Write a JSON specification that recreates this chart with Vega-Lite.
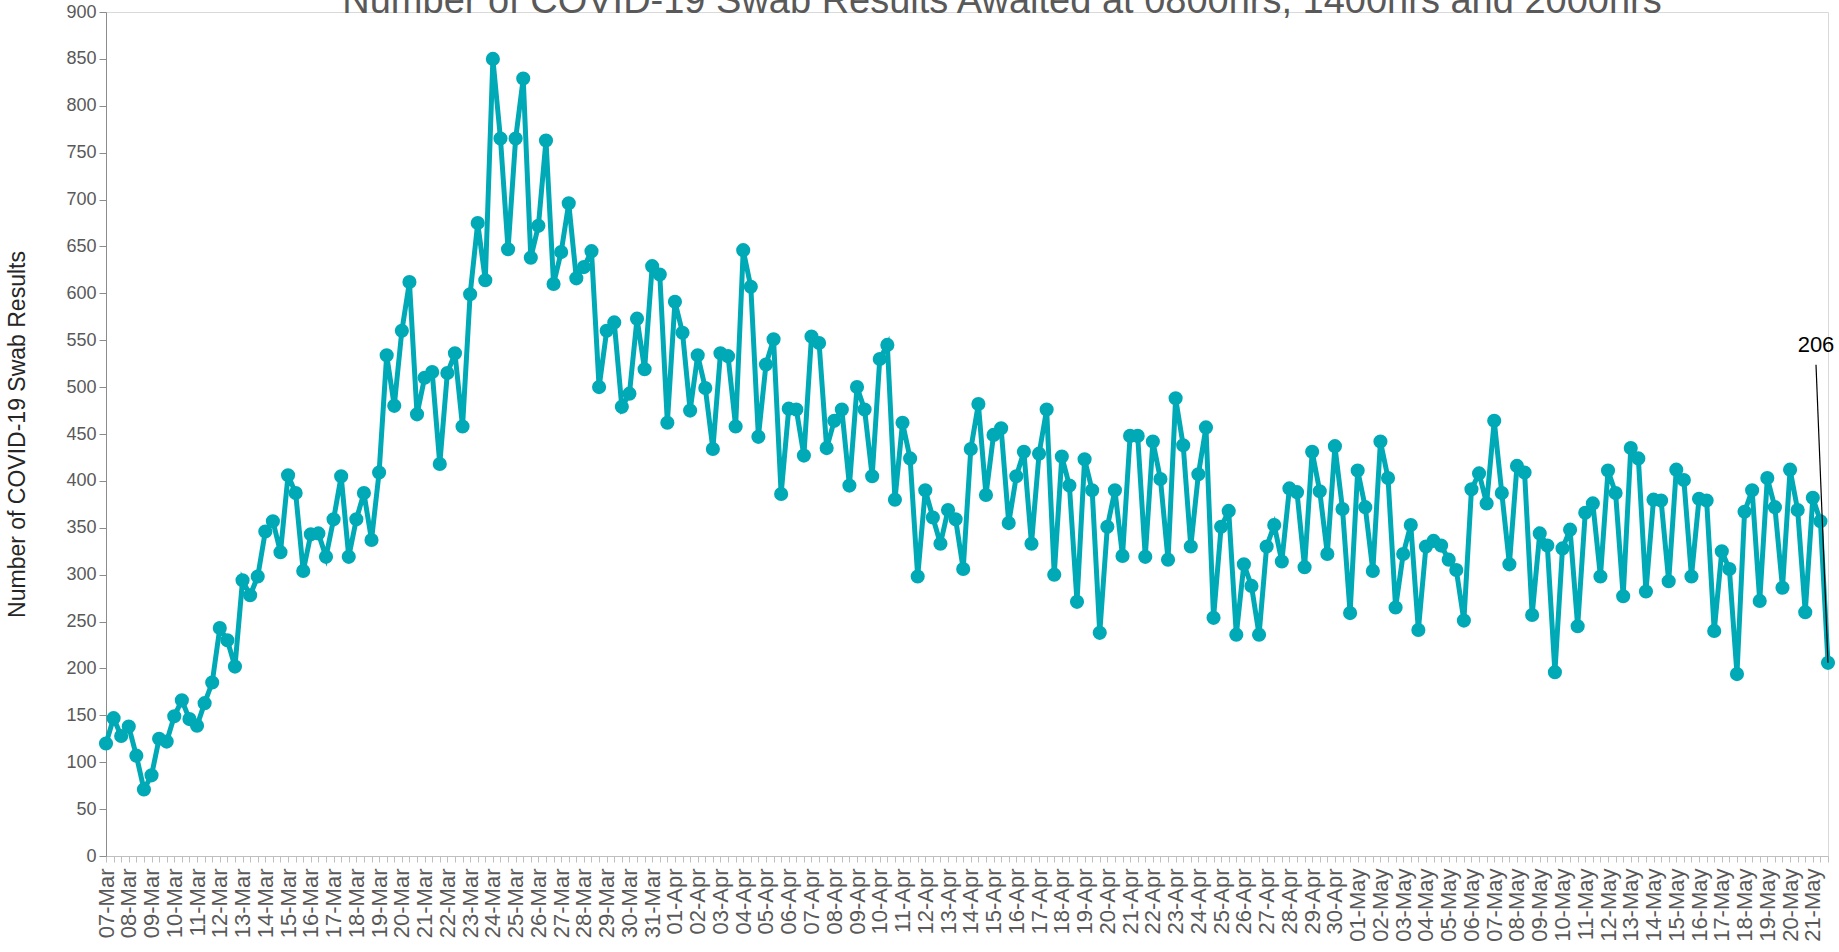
{
  "$schema": "https://vega.github.io/schema/vega-lite/v6.json",
  "width": 1722,
  "height": 844,
  "autosize": {"type": "none"},
  "padding": {"left": 106, "top": 12, "right": 11, "bottom": 96},
  "background": "white",
  "config": {"view": {"stroke": "#D9D9D9", "strokeWidth": 1}, "font": "Liberation Sans"},
  "title": {
    "text": "Number of COVID-19 Swab Results Awaited at 0800hrs, 1400hrs and 2000hrs",
    "fontSize": 38,
    "font": "Liberation Sans",
    "fontWeight": "normal",
    "color": "#595959",
    "baseline": "alphabetic",
    "offset": -8,
    "dx": 35,
    "dy": 40,
    "anchor": "middle",
    "frame": "group"
  },
  "data": {
    "values": [
      {"t": "07-Mar 0800", "v": 120}, {"t": "07-Mar 1400", "v": 147}, {"t": "07-Mar 2000", "v": 128},
      {"t": "08-Mar 0800", "v": 138}, {"t": "08-Mar 1400", "v": 107}, {"t": "08-Mar 2000", "v": 71},
      {"t": "09-Mar 0800", "v": 86}, {"t": "09-Mar 1400", "v": 125}, {"t": "09-Mar 2000", "v": 122},
      {"t": "10-Mar 0800", "v": 149}, {"t": "10-Mar 1400", "v": 166}, {"t": "10-Mar 2000", "v": 146},
      {"t": "11-Mar 0800", "v": 139}, {"t": "11-Mar 1400", "v": 163}, {"t": "11-Mar 2000", "v": 185},
      {"t": "12-Mar 0800", "v": 243}, {"t": "12-Mar 1400", "v": 230}, {"t": "12-Mar 2000", "v": 202},
      {"t": "13-Mar 0800", "v": 294}, {"t": "13-Mar 1400", "v": 278}, {"t": "13-Mar 2000", "v": 298},
      {"t": "14-Mar 0800", "v": 346}, {"t": "14-Mar 1400", "v": 357}, {"t": "14-Mar 2000", "v": 324},
      {"t": "15-Mar 0800", "v": 406}, {"t": "15-Mar 1400", "v": 387}, {"t": "15-Mar 2000", "v": 304},
      {"t": "16-Mar 0800", "v": 343}, {"t": "16-Mar 1400", "v": 344}, {"t": "16-Mar 2000", "v": 319},
      {"t": "17-Mar 0800", "v": 359}, {"t": "17-Mar 1400", "v": 405}, {"t": "17-Mar 2000", "v": 319},
      {"t": "18-Mar 0800", "v": 359}, {"t": "18-Mar 1400", "v": 387}, {"t": "18-Mar 2000", "v": 337},
      {"t": "19-Mar 0800", "v": 409}, {"t": "19-Mar 1400", "v": 534}, {"t": "19-Mar 2000", "v": 480},
      {"t": "20-Mar 0800", "v": 560}, {"t": "20-Mar 1400", "v": 612}, {"t": "20-Mar 2000", "v": 471},
      {"t": "21-Mar 0800", "v": 510}, {"t": "21-Mar 1400", "v": 516}, {"t": "21-Mar 2000", "v": 418},
      {"t": "22-Mar 0800", "v": 515}, {"t": "22-Mar 1400", "v": 536}, {"t": "22-Mar 2000", "v": 458},
      {"t": "23-Mar 0800", "v": 599}, {"t": "23-Mar 1400", "v": 675}, {"t": "23-Mar 2000", "v": 614},
      {"t": "24-Mar 0800", "v": 850}, {"t": "24-Mar 1400", "v": 765}, {"t": "24-Mar 2000", "v": 647},
      {"t": "25-Mar 0800", "v": 765}, {"t": "25-Mar 1400", "v": 829}, {"t": "25-Mar 2000", "v": 638},
      {"t": "26-Mar 0800", "v": 672}, {"t": "26-Mar 1400", "v": 763}, {"t": "26-Mar 2000", "v": 610},
      {"t": "27-Mar 0800", "v": 644}, {"t": "27-Mar 1400", "v": 696}, {"t": "27-Mar 2000", "v": 616},
      {"t": "28-Mar 0800", "v": 628}, {"t": "28-Mar 1400", "v": 645}, {"t": "28-Mar 2000", "v": 500},
      {"t": "29-Mar 0800", "v": 560}, {"t": "29-Mar 1400", "v": 569}, {"t": "29-Mar 2000", "v": 479},
      {"t": "30-Mar 0800", "v": 493}, {"t": "30-Mar 1400", "v": 573}, {"t": "30-Mar 2000", "v": 519},
      {"t": "31-Mar 0800", "v": 629}, {"t": "31-Mar 1400", "v": 620}, {"t": "31-Mar 2000", "v": 462},
      {"t": "01-Apr 0800", "v": 591}, {"t": "01-Apr 1400", "v": 558}, {"t": "01-Apr 2000", "v": 475},
      {"t": "02-Apr 0800", "v": 534}, {"t": "02-Apr 1400", "v": 499}, {"t": "02-Apr 2000", "v": 434},
      {"t": "03-Apr 0800", "v": 536}, {"t": "03-Apr 1400", "v": 533}, {"t": "03-Apr 2000", "v": 458},
      {"t": "04-Apr 0800", "v": 646}, {"t": "04-Apr 1400", "v": 607}, {"t": "04-Apr 2000", "v": 447},
      {"t": "05-Apr 0800", "v": 524}, {"t": "05-Apr 1400", "v": 551}, {"t": "05-Apr 2000", "v": 386},
      {"t": "06-Apr 0800", "v": 477}, {"t": "06-Apr 1400", "v": 476}, {"t": "06-Apr 2000", "v": 427},
      {"t": "07-Apr 0800", "v": 554}, {"t": "07-Apr 1400", "v": 547}, {"t": "07-Apr 2000", "v": 435},
      {"t": "08-Apr 0800", "v": 464}, {"t": "08-Apr 1400", "v": 476}, {"t": "08-Apr 2000", "v": 395},
      {"t": "09-Apr 0800", "v": 500}, {"t": "09-Apr 1400", "v": 476}, {"t": "09-Apr 2000", "v": 405},
      {"t": "10-Apr 0800", "v": 530}, {"t": "10-Apr 1400", "v": 545}, {"t": "10-Apr 2000", "v": 380},
      {"t": "11-Apr 0800", "v": 462}, {"t": "11-Apr 1400", "v": 424}, {"t": "11-Apr 2000", "v": 298},
      {"t": "12-Apr 0800", "v": 390}, {"t": "12-Apr 1400", "v": 361}, {"t": "12-Apr 2000", "v": 333},
      {"t": "13-Apr 0800", "v": 369}, {"t": "13-Apr 1400", "v": 359}, {"t": "13-Apr 2000", "v": 306},
      {"t": "14-Apr 0800", "v": 434}, {"t": "14-Apr 1400", "v": 482}, {"t": "14-Apr 2000", "v": 385},
      {"t": "15-Apr 0800", "v": 449}, {"t": "15-Apr 1400", "v": 456}, {"t": "15-Apr 2000", "v": 355},
      {"t": "16-Apr 0800", "v": 405}, {"t": "16-Apr 1400", "v": 431}, {"t": "16-Apr 2000", "v": 333},
      {"t": "17-Apr 0800", "v": 429}, {"t": "17-Apr 1400", "v": 476}, {"t": "17-Apr 2000", "v": 300},
      {"t": "18-Apr 0800", "v": 426}, {"t": "18-Apr 1400", "v": 395}, {"t": "18-Apr 2000", "v": 271},
      {"t": "19-Apr 0800", "v": 423}, {"t": "19-Apr 1400", "v": 390}, {"t": "19-Apr 2000", "v": 238},
      {"t": "20-Apr 0800", "v": 351}, {"t": "20-Apr 1400", "v": 390}, {"t": "20-Apr 2000", "v": 320},
      {"t": "21-Apr 0800", "v": 448}, {"t": "21-Apr 1400", "v": 448}, {"t": "21-Apr 2000", "v": 319},
      {"t": "22-Apr 0800", "v": 442}, {"t": "22-Apr 1400", "v": 402}, {"t": "22-Apr 2000", "v": 316},
      {"t": "23-Apr 0800", "v": 488}, {"t": "23-Apr 1400", "v": 438}, {"t": "23-Apr 2000", "v": 330},
      {"t": "24-Apr 0800", "v": 407}, {"t": "24-Apr 1400", "v": 457}, {"t": "24-Apr 2000", "v": 254},
      {"t": "25-Apr 0800", "v": 351}, {"t": "25-Apr 1400", "v": 368}, {"t": "25-Apr 2000", "v": 236},
      {"t": "26-Apr 0800", "v": 311}, {"t": "26-Apr 1400", "v": 288}, {"t": "26-Apr 2000", "v": 236},
      {"t": "27-Apr 0800", "v": 330}, {"t": "27-Apr 1400", "v": 353}, {"t": "27-Apr 2000", "v": 314},
      {"t": "28-Apr 0800", "v": 392}, {"t": "28-Apr 1400", "v": 388}, {"t": "28-Apr 2000", "v": 308},
      {"t": "29-Apr 0800", "v": 431}, {"t": "29-Apr 1400", "v": 389}, {"t": "29-Apr 2000", "v": 322},
      {"t": "30-Apr 0800", "v": 437}, {"t": "30-Apr 1400", "v": 370}, {"t": "30-Apr 2000", "v": 259},
      {"t": "01-May 0800", "v": 411}, {"t": "01-May 1400", "v": 372}, {"t": "01-May 2000", "v": 304},
      {"t": "02-May 0800", "v": 442}, {"t": "02-May 1400", "v": 403}, {"t": "02-May 2000", "v": 265},
      {"t": "03-May 0800", "v": 322}, {"t": "03-May 1400", "v": 353}, {"t": "03-May 2000", "v": 241},
      {"t": "04-May 0800", "v": 330}, {"t": "04-May 1400", "v": 336}, {"t": "04-May 2000", "v": 331},
      {"t": "05-May 0800", "v": 316}, {"t": "05-May 1400", "v": 305}, {"t": "05-May 2000", "v": 251},
      {"t": "06-May 0800", "v": 391}, {"t": "06-May 1400", "v": 408}, {"t": "06-May 2000", "v": 376},
      {"t": "07-May 0800", "v": 464}, {"t": "07-May 1400", "v": 387}, {"t": "07-May 2000", "v": 311},
      {"t": "08-May 0800", "v": 416}, {"t": "08-May 1400", "v": 409}, {"t": "08-May 2000", "v": 257},
      {"t": "09-May 0800", "v": 344}, {"t": "09-May 1400", "v": 331}, {"t": "09-May 2000", "v": 196},
      {"t": "10-May 0800", "v": 328}, {"t": "10-May 1400", "v": 348}, {"t": "10-May 2000", "v": 245},
      {"t": "11-May 0800", "v": 366}, {"t": "11-May 1400", "v": 376}, {"t": "11-May 2000", "v": 298},
      {"t": "12-May 0800", "v": 411}, {"t": "12-May 1400", "v": 387}, {"t": "12-May 2000", "v": 277},
      {"t": "13-May 0800", "v": 435}, {"t": "13-May 1400", "v": 424}, {"t": "13-May 2000", "v": 282},
      {"t": "14-May 0800", "v": 380}, {"t": "14-May 1400", "v": 379}, {"t": "14-May 2000", "v": 293},
      {"t": "15-May 0800", "v": 412}, {"t": "15-May 1400", "v": 401}, {"t": "15-May 2000", "v": 298},
      {"t": "16-May 0800", "v": 381}, {"t": "16-May 1400", "v": 379}, {"t": "16-May 2000", "v": 240},
      {"t": "17-May 0800", "v": 325}, {"t": "17-May 1400", "v": 306}, {"t": "17-May 2000", "v": 194},
      {"t": "18-May 0800", "v": 367}, {"t": "18-May 1400", "v": 390}, {"t": "18-May 2000", "v": 272},
      {"t": "19-May 0800", "v": 403}, {"t": "19-May 1400", "v": 372}, {"t": "19-May 2000", "v": 286},
      {"t": "20-May 0800", "v": 412}, {"t": "20-May 1400", "v": 369}, {"t": "20-May 2000", "v": 260},
      {"t": "21-May 0800", "v": 382}, {"t": "21-May 1400", "v": 357}, {"t": "21-May 2000", "v": 206}
    ]
  },
  "layer": [
    {
      "mark": {
        "type": "line",
        "color": "#00A9B6",
        "strokeWidth": 5,
        "point": {"filled": true, "size": 200, "color": "#00A9B6", "opacity": 1}
      },
      "encoding": {
        "x": {
          "field": "t",
          "type": "ordinal",
          "sort": null,
          "scale": {"type": "point", "padding": 0},
          "axis": {
            "title": null,
            "labelAngle": -90,
            "labelExpr": "indexof(datum.value, ' 0800') > 0 ? slice(datum.value, 0, 6) : ''",
            "labelOverlap": false,
            "labelFontSize": 22,
            "labelFont": "Liberation Sans",
            "labelColor": "#595959",
            "tickSize": 6,
            "tickColor": "#BFBFBF",
            "domainColor": "#BFBFBF",
            "labelPadding": 6,
            "labelBound": false
          }
        },
        "y": {
          "field": "v",
          "type": "quantitative",
          "scale": {"domain": [0, 900], "nice": false},
          "axis": {
            "title": "Number of COVID-19 Swab Results",
            "titleFontSize": 23,
            "titleFont": "Liberation Sans",
            "titleFontWeight": "normal",
            "titleColor": "#262626",
            "titlePadding": 36,
            "values": [0, 50, 100, 150, 200, 250, 300, 350, 400, 450, 500, 550, 600, 650, 700, 750, 800, 850, 900],
            "labelFontSize": 18,
            "labelFont": "Liberation Sans",
            "labelColor": "#595959",
            "labelPadding": 3,
            "tickSize": 7,
            "tickColor": "#8C8C8C",
            "domainColor": "#8C8C8C",
            "grid": false
          }
        }
      }
    },
    {
      "transform": [{"filter": "datum.t == '21-May 2000'"}],
      "mark": {"type": "rule", "color": "#000000", "strokeWidth": 1.2, "x2Offset": -12, "y2Offset": -298},
      "encoding": {
        "x": {"field": "t", "type": "ordinal", "sort": null},
        "x2": {"field": "t"},
        "y": {"field": "v", "type": "quantitative"},
        "y2": {"field": "v"}
      }
    },
    {
      "transform": [{"filter": "datum.t == '21-May 2000'"}],
      "mark": {"type": "text", "fontSize": 22, "font": "Liberation Sans", "color": "#000000", "dx": -12, "dy": -318, "baseline": "middle", "align": "center"},
      "encoding": {
        "x": {"field": "t", "type": "ordinal", "sort": null},
        "y": {"field": "v", "type": "quantitative"},
        "text": {"field": "v", "type": "quantitative"}
      }
    }
  ]
}
